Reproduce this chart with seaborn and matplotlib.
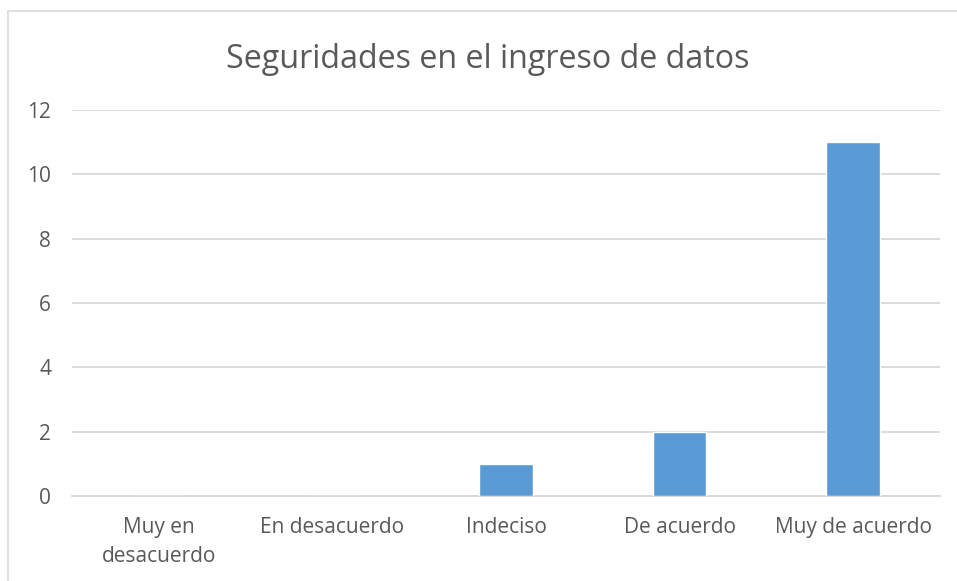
import matplotlib
matplotlib.use("Agg")
import matplotlib.pyplot as plt
import pandas as pd
import seaborn as sns
from matplotlib.patches import Rectangle

# Data
categorias = ["Muy en\ndesacuerdo", "En desacuerdo", "Indeciso", "De acuerdo", "Muy de acuerdo"]
valores = [0, 0, 1, 2, 11]
titulo = "Seguridades en el ingreso de datos"

df = pd.DataFrame({"categoria": categorias, "valor": valores})

sns.set_style("white")
plt.rcParams["font.family"] = ["Open Sans", "DejaVu Sans"]

fig = plt.figure(figsize=(9.57, 5.81), dpi=100)
ax = fig.add_axes([0.0752, 0.1463, 0.9070, 0.6644])

sns.barplot(data=df, x="categoria", y="valor", color="#5B9BD5", saturation=1,
            width=0.31, ax=ax, zorder=3)

ax.set_ylim(0, 12)
ax.set_yticks(range(0, 13, 2))
ax.grid(axis="y", color="#d9d9d9", linewidth=1.3, zorder=0)
ax.set_xlabel("")
ax.set_ylabel("")
for s in ["top", "right", "left"]:
    ax.spines[s].set_visible(False)
ax.spines["bottom"].set_color("#d9d9d9")
ax.spines["bottom"].set_linewidth(1.3)
ax.tick_params(axis="both", length=0, labelsize=15, labelcolor="#595959")
ax.tick_params(axis="y", pad=15)
ax.tick_params(axis="x", pad=15)
for lbl in ax.get_xticklabels():
    lbl.set_linespacing(1.5)

fig.text(0.51, 0.898, titulo, ha="center", va="center", fontsize=23.2, color="#595959")

# chart border
fig.patches.append(Rectangle((8 / 957, -0.01), 1.0, (581 - 11) / 581 + 0.01,
                             transform=fig.transFigure, fill=False,
                             edgecolor="#d9d9d9", linewidth=1.2))

fig.savefig("out.png", dpi=100)
